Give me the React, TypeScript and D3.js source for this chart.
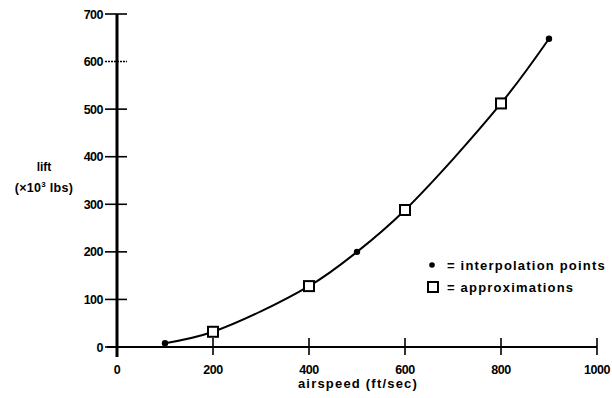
import * as d3 from 'd3';
import { useEffect, useRef } from 'react';

const interpolationPoints = [
  [100, 8],
  [500, 200],
  [900, 648],
];
const approximations = [
  [200, 32],
  [400, 128],
  [600, 288],
  [800, 512],
];
const xTicks = [0, 200, 400, 600, 800, 1000];
const yTicks = [0, 100, 200, 300, 400, 500, 600, 700];

export default function App() {
  const w = 612;
  const h = 398;
  const svgRef = useRef<SVGSVGElement>(null);

  useEffect(() => {
    if (svgRef.current == null) {
      return;
    }
    const svg = d3.select(svgRef.current);
    svg.selectAll('*').remove();
    const font = "'Liberation Sans', Arial, sans-serif";

    const xScale = d3.scaleLinear().domain([0, 1000]).range([117, 597]);
    const yScale = d3.scaleLinear().domain([0, 700]).range([347, 14]);

    // axes
    svg
      .append('line')
      .attr('x1', xScale(0))
      .attr('x2', xScale(0))
      .attr('y1', yScale(700))
      .attr('y2', yScale(0) + 10)
      .attr('stroke', '#000')
      .attr('stroke-width', 3);
    svg
      .append('line')
      .attr('x1', xScale(0) - 10)
      .attr('x2', xScale(1000))
      .attr('y1', yScale(0))
      .attr('y2', yScale(0))
      .attr('stroke', '#000')
      .attr('stroke-width', 2);

    for (const t of yTicks) {
      svg
        .append('line')
        .attr('x1', xScale(0) - 12)
        .attr('x2', xScale(0) + 10)
        .attr('y1', yScale(t))
        .attr('y2', yScale(t))
        .attr('stroke', '#000')
        .attr('stroke-width', 1.6)
        .attr('stroke-dasharray', t == 600 ? '2,1' : null);
      svg
        .append('text')
        .attr('x', xScale(0) - 14)
        .attr('y', yScale(t) + 4.5)
        .attr('text-anchor', 'end')
        .style('font', `bold 12.5px ${font}`)
        .style('letter-spacing', '-0.5px')
        .text(t);
    }

    for (const t of xTicks) {
      if (t > 0) {
        svg
          .append('line')
          .attr('x1', xScale(t))
          .attr('x2', xScale(t))
          .attr('y1', yScale(0) - 9)
          .attr('y2', yScale(0) + 8)
          .attr('stroke', '#000')
          .attr('stroke-width', 1.6);
      }
      svg
        .append('text')
        .attr('x', xScale(t))
        .attr('y', 374)
        .attr('text-anchor', 'middle')
        .style('font', `bold 12.5px ${font}`)
        .style('letter-spacing', '-0.5px')
        .text(t);
    }

    // axis titles
    svg
      .append('text')
      .attr('x', 358)
      .attr('y', 388)
      .attr('text-anchor', 'middle')
      .style('font', `bold 13px ${font}`)
      .style('letter-spacing', '1.2px')
      .text('airspeed (ft/sec)');
    svg
      .append('text')
      .attr('x', 44)
      .attr('y', 171)
      .attr('text-anchor', 'middle')
      .style('font', `bold 12px ${font}`)
      .text('lift');
    const unit = svg
      .append('text')
      .attr('x', 44)
      .attr('y', 192)
      .attr('text-anchor', 'middle')
      .style('font', `bold 12.5px ${font}`)
      .style('letter-spacing', '0.3px');
    unit.append('tspan').text('(×10');
    unit.append('tspan').attr('dy', -5).style('font-size', '8px').text('3');
    unit.append('tspan').attr('dy', 5).text(' lbs)');

    // curve through all points
    const all = [...interpolationPoints, ...approximations].sort((a, b) => a[0] - b[0]);
    const line = d3
      .line<number[]>()
      .x((d) => xScale(d[0]))
      .y((d) => yScale(d[1]))
      .curve(d3.curveCatmullRom.alpha(0.5));
    svg
      .append('path')
      .attr('d', line(all))
      .attr('fill', 'none')
      .attr('stroke', '#000')
      .attr('stroke-width', 2);

    for (const [x, y] of interpolationPoints) {
      svg
        .append('circle')
        .attr('cx', xScale(x))
        .attr('cy', yScale(y))
        .attr('r', 3.2)
        .attr('fill', '#000');
    }
    for (const [x, y] of approximations) {
      svg
        .append('rect')
        .attr('x', xScale(x) - 5)
        .attr('y', yScale(y) - 5)
        .attr('width', 10)
        .attr('height', 10)
        .attr('fill', '#fff')
        .attr('stroke', '#000')
        .attr('stroke-width', 2);
    }

    // legend
    svg.append('circle').attr('cx', 432).attr('cy', 265).attr('r', 2.8).attr('fill', '#000');
    svg
      .append('rect')
      .attr('x', 428)
      .attr('y', 282)
      .attr('width', 10)
      .attr('height', 10)
      .attr('fill', '#fff')
      .attr('stroke', '#000')
      .attr('stroke-width', 2);
    svg
      .append('text')
      .attr('x', 447)
      .attr('y', 270)
      .style('font', `bold 13px ${font}`)
      .style('letter-spacing', '1.2px')
      .text('= interpolation points');
    svg
      .append('text')
      .attr('x', 447)
      .attr('y', 292)
      .style('font', `bold 13px ${font}`)
      .style('letter-spacing', '1.2px')
      .text('= approximations');
  }, []);

  return <svg ref={svgRef} width={w} height={h} style={{ position: 'absolute', left: 0, top: 0 }}></svg>;
}
